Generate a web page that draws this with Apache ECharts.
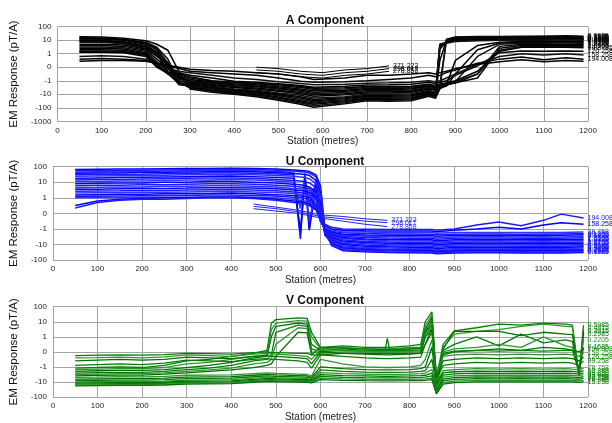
<!DOCTYPE html>
<html>
<head>
<meta charset="utf-8">
<script src="https://cdn.jsdelivr.net/npm/echarts@6/dist/echarts.min.js"></script>
<style>
  html, body { margin: 0; padding: 0; background: #fff; }
  #chart { width: 612px; height: 423px; }
</style>
</head>
<body>
<div id="chart"></div>
<script>
// EM decay profiles, three components, values in pT/A along the line.

// ---- A component ----
const stationsA = [50,100,150,200,225,250,275,300,350,400,450,500,550,580,650,700,750,800,840,855,865,880,900,950,1000,1050,1100,1150,1190];
const componentA = [
  [18,17,14,9,5,1.8,-0.3,-4,-7,-10,-15,-28,-55,-90,-50,-30,-33,-30,-14,-20,-4,12,17,19,19,20,20,21,20],
  [16,15,12,7,3,0.6,-1.2,-3.5,-6,-9,-13,-24,-45,-70,-42,-26,-28,-25,-12,-17,-2,11,16,17,18,18,19,19,18],
  [14,13,11,6,2.5,0.3,-1.5,-3,-5,-8,-11,-20,-38,-55,-35,-22,-24,-21,-10,-14,0.5,10,14,15,16,16,17,17,16],
  [12,12,10,5,2,0,-1.8,-2.5,-4.5,-7,-9,-16,-30,-45,-30,-19,-20,-18,-9,-12,2,9,12,13,14,15,15,15,14],
  [11,10,8,4,1.5,-0.3,-2,-2.2,-4,-6,-8,-13,-24,-36,-25,-16,-17,-15,-8,-10,3,8,11,12,13,13,14,14,13],
  [9,9,7,3.5,1.2,-0.5,-1.5,-2,-3.5,-5,-7,-11,-19,-30,-21,-14,-14,-13,-7,-9,4,7,10,11,12,12,12,13,12],
  [8,8,6,3,1,0.2,-1,-1.8,-3,-4.5,-6,-9,-15,-24,-18,-12,-12,-11,-6,-8,5,7,9,10,11,11,11,12,11],
  [7,7,5.5,2.5,0.9,0.4,-0.8,-1.6,-2.6,-4,-5,-8,-12,-19,-15,-10,-10,-9,-5,-7,5,6,8,9,10,10,10,11,10],
  [5,5,4.5,2.2,0.8,0.2,-0.6,-1.4,-2.2,-3.2,-4,-6,-9,-14,-11,-8,-8,-7,-4,-5,-4,-2,0.5,4,7,8,8,8.5,8],
  [4,4,3.5,1.8,0.6,-0.1,-0.8,-1.2,-1.9,-2.7,-3.4,-5,-7.5,-11,-9,-6.5,-6.5,-6,-3.5,-4.5,-3.5,-2.5,-0.5,2,6,7,7,7.5,7],
  [3.2,3.2,2.8,1.5,0.4,-0.3,-0.9,-1.1,-1.6,-2.3,-2.8,-4,-6,-9,-7.5,-5.5,-5.5,-5,-3,-4,-3,-2.2,-1.2,0.8,5,6,6,6.5,6],
  [2.5,2.5,2.2,1.2,0.2,-0.4,-0.7,-1,-1.4,-2,-2.4,-3.4,-5,-7,-6,-4.5,-4.5,-4,-2.5,-3.5,-2.5,-2,-1.5,-0.5,3.5,5,5,5,5],
  [2,2,1.8,1,0.1,-0.5,-0.6,-0.9,-1.2,-1.7,-2,-2.8,-4,-5.5,-5,-3.8,-3.8,-3.5,-2.2,-3,-2.2,-1.8,-1.4,-0.8,2.5,4,4,4.2,4],
  [1.6,1.6,1.5,0.9,0.05,-0.5,-0.5,-0.8,-1.1,-1.5,-1.7,-2.4,-3.2,-4.5,-4,-3.2,-3.2,-3,-2,-2.6,-2,-1.6,-1.2,-0.5,1.8,3.5,3.5,3.5,3.4],
  [1.3,1.3,1.2,0.8,0,-0.4,-0.5,-0.7,-1,-1.3,-1.5,-2,-2.7,-3.6,-3.3,-2.7,-2.7,-2.5,-1.8,-2.2,-1.8,-1.4,-1,-0.3,1.5,3,3,3,2.8],
  [1.4,1.4,1.3,0.9,0.3,-0.1,-0.4,-0.6,-0.8,-1.1,-1.3,-1.7,-2.2,-3,-2.6,-2.1,-2,-1.8,-1.3,-1.6,-1.3,-1,-0.6,0.1,1.2,1.6,1.5,1.6,1.5],
  [0.8,0.85,0.8,0.6,0.2,-0.1,-0.3,-0.4,-0.6,-0.8,-0.9,-1.2,-1.6,-2,-1.8,-1.5,-1.4,-1.3,-1,-1.2,-1,-0.8,-0.5,0.2,0.8,1,0.9,1,0.9],
  [0.6,0.65,0.6,0.5,0.3,0.1,-0.1,-0.3,-0.4,-0.5,-0.6,-0.8,-1.1,-1.3,-1.2,-1,-0.9,-0.8,-0.6,-0.7,-0.6,-0.4,-0.2,0.3,0.6,0.75,0.55,0.7,0.6],
  [0.45,0.5,0.5,0.45,0.3,0.15,0,-0.15,-0.25,-0.3,-0.4,-0.5,-0.7,-0.9,-0.8,-0.6,-0.6,-0.5,-0.4,-0.5,-0.4,-0.3,-0.1,0.2,0.4,0.55,0.4,0.5,0.45]
];
const endLabelsA = ['0.0985','0.1225','0.1585','0.2115','0.2625','0.3305','0.4095','0.5185','0.6485','0.8155','1.0205','1.2875','1.6165','2.0305','99.8755','126.258','158.258','194.008'];

// late channels read only over part of the line
const stationsLate = [450,500,550,600,650,700,750];
const lateA = [
  [0,-0.1,-0.3,-0.4,-0.2,-0.1,0.1],
  [-0.2,-0.3,-0.5,-0.6,-0.4,-0.3,-0.1],
  [-0.4,-0.5,-0.7,-0.8,-0.6,-0.5,-0.3]
];
const lateU = [
  [0.6,0.4,0.2,-0.1,-0.2,-0.35,-0.45],
  [0.45,0.3,0.1,-0.2,-0.35,-0.5,-0.6],
  [0.3,0.15,0,-0.3,-0.5,-0.7,-0.85]
];
const lateLabels = ['371.222','298.017','278.858'];

// ---- U component ----
const stationsU = [50,100,150,200,250,300,350,400,450,500,540,555,565,575,590,600,610,625,650,700,750,800,850,860,900,950,1000,1050,1100,1140,1190];
const componentU = [
  [66,68,70,72,74,76,78,80,78,72,62,58,55,50,30,6,-1,-12,-25,-30,-33,-34,-35,-40,-35,-34,-34,-35,-34,-35,-33],
  [55,57,58,60,62,64,66,68,66,60,52,48,45,40,22,4,-1.5,-10,-21,-27,-30,-31,-31,-36,-32,-31,-31,-32,-31,-32,-30],
  [45,47,48,50,52,54,56,58,56,50,44,-3,38,-1,17,3,-2,-9,-18,-24,-26,-27,-28,-32,-28,-27,-27,-28,-27,-28,-26],
  [38,39,40,42,44,46,48,50,48,42,37,34,32,28,13,2,-2.5,-8,-16,-21,-23,-24,-25,-28,-25,-24,-24,-25,-24,-25,-23],
  [30,31,32,33,35,37,39,40,38,34,30,-4.5,26,0.5,10,1.5,-2.5,-7,-14,-18,-20,-21,-22,-25,-22,-21,-21,-22,-21,-22,-20],
  [24,25,26,27,28,30,31,32,30,27,24,22,20,17,8,1,-2.2,-6,-12,-16,-17,-18,-19,-22,-19,-18,-18,-19,-18,-19,-17],
  [18,19,20,21,22,23,24,25,23,20,18,-1.5,15,-1.2,6,0.6,-2,-5,-10,-13,-14,-15,-16,-18,-16,-15,-15,-16,-15,-16,-14],
  [14,15,15,16,17,18,19,19,18,15,13,12,11,9,4.5,0.3,-1.8,-4.5,-8.5,-11,-12,-12.5,-13,-15,-13,-12.5,-12.5,-13,-12.5,-13,-12],
  [11,11,12,12,13,14,14,15,14,12,10,0.3,8,-0.5,3.5,0.1,-1.6,-4,-7,-9,-10,-10.5,-11,-12,-11,-10.5,-10.5,-11,-10.5,-11,-10],
  [8,8.5,9,9,10,10,11,11,10,9,7.5,7,6,5,2.5,-0.1,-1.5,-3.5,-6,-7.5,-8.5,-9,-9,-10,-9,-8.5,-8.5,-9,-8.5,-9,-8.5],
  [6,6.3,6.5,7,7,7.5,8,8,7.5,6.5,5.5,5,4.5,3.8,2,-0.2,-1.4,-3,-5,-6.5,-7,-7.5,-7.5,-8.5,-7.5,-7,-7,-7.5,-7,-7.5,-7],
  [4.5,4.7,5,5,5.5,5.5,6,6,5.5,5,4,3.8,3.4,3,1.5,-0.3,-1.3,-2.6,-4.2,-5.2,-5.8,-6,-6,-7,-6,-5.8,-5.8,-6,-5.8,-6,-5.6],
  [3.5,3.6,3.8,4,4,4.2,4.5,4.5,4.2,3.8,3.2,3,2.6,2.3,1.2,-0.4,-1.2,-2.3,-3.6,-4.4,-4.8,-5,-5,-5.8,-5,-4.8,-4.8,-5,-4.8,-5,-4.6],
  [2.6,2.7,2.8,3,3,3.2,3.3,3.4,3.2,2.8,2.4,2.2,2,1.8,0.9,-0.4,-1.1,-2,-3,-3.6,-3.9,-4,-4,-4.6,-4,-3.9,-3.9,-4,-3.9,-4,-3.7],
  [2,2.1,2.2,2.3,2.3,2.4,2.5,2.6,2.4,2.2,1.9,1.7,1.6,1.4,0.7,-0.5,-1.05,-1.8,-2.6,-3,-3.2,-3.2,-3.3,-3.8,-3.3,-3.2,-3.2,-3.3,-3.2,-3.3,-3],
  [1.5,1.6,1.7,1.7,1.8,1.8,1.9,2,1.8,1.6,1.4,1.3,1.2,1.1,0.5,-0.5,-1,-1.6,-2.2,-2.5,-2.6,-2.6,-2.7,-3,-2.7,-2.6,-2.6,-2.7,-2.6,-2.6,-2.4],
  [1.2,1.25,1.3,1.35,1.4,1.4,1.5,1.5,1.4,1.3,1.1,1,0.95,0.85,0.4,-0.5,-0.95,-1.4,-1.8,-2,-2.1,-2.1,-2.2,-2.4,-2.2,-2.1,-2.1,-2.2,-2.1,-2.1,-2],
  [1,1.02,1.05,1.1,1.1,1.1,1.15,1.2,1.1,1,0.9,0.85,0.8,0.7,0.3,-0.4,-0.9,-1.2,-1.5,-1.6,-1.7,-1.7,-1.7,-1.9,-1.7,-1.7,-1.7,-1.7,-1.7,-1.7,-1.6],
  [0.5,0.8,0.9,0.95,1,1,1.05,1.05,1,0.9,0.8,0.75,0.7,0.6,0.25,-0.35,-0.8,-1,-1.2,-1.3,-1.35,-1.35,-1.35,-1.5,-1.2,-1,-0.9,-1,-0.75,-0.6,-0.7],
  [0.35,0.7,0.85,0.9,0.9,0.95,1,1,0.95,0.85,0.7,0.65,0.6,0.5,0.2,-0.3,-0.7,-0.9,-1,-1.05,-1.1,-1.1,-1.1,-1.2,-1,-0.75,-0.55,-0.8,-0.45,-0.05,-0.3]
];
const endLabelsU = ['0.0985','0.1225','0.1585','0.2115','0.2625','0.3305','0.4095','0.5185','0.6485','0.8155','1.0205','1.2875','1.6165','2.0305','2.5475','3.1965','40.258','78.758','158.258','194.008'];

// ---- V component ----
const stationsV = [50,100,150,200,250,300,350,400,450,480,490,500,550,570,580,600,650,700,745,750,755,800,825,835,850,860,875,900,950,1000,1050,1100,1150,1165,1180,1190];
const componentV = [
  [-1.2,-1.1,-1.0,-1.1,-0.9,-0.6,-0.5,-0.3,-0.1,0.1,8,14,18,17,2,0.3,0.4,0.3,0.3,0.3,0.3,0.4,0.5,10,45,-6,0.5,2.5,4,7,6,8,7,6,-4,6],
  [-1.5,-1.4,-1.3,-1.3,-1.1,-0.8,-0.7,-0.5,-0.3,-0.2,3,8,12,11,1,0.2,0.3,0.2,0.2,0.2,0.2,0.3,0.3,5,30,-8,0.3,1.5,2.3,3,5,7,5,4.5,-4,4],
  [-2,-1.8,-1.7,-1.7,-1.5,-1.1,-0.9,-0.7,-0.4,-0.3,1,5,8,7,0.5,0.1,0.2,0.1,0.15,0.15,0.15,0.2,0.2,3,20,-10,0.2,2.3,2.3,2.3,1.2,2,1.5,1.4,-3.5,2.5],
  [-2.6,-2.4,-2.3,-2.3,-2,-1.5,-1.2,-0.9,-0.6,-0.5,-0.2,2,6,5,0.2,0,0.1,0.05,0.1,0.1,0.1,0.1,0.1,2,12,-12,0.1,0.5,1,0.4,1.5,0.6,0.8,0.7,-3,1.5],
  [-3.2,-3,-2.8,-2.8,-2.5,-2,-1.6,-1.2,-0.8,-0.7,-0.5,0.5,4,3.5,0,-0.1,0,0,0,0,0,0,0,1,8,-15,0,0.2,0.3,0.5,0.3,1,0.4,0.3,-2.5,0.8],
  [-4,-3.7,-3.5,-3.5,-3,-2.5,-2,-1.6,-1.1,-0.9,-0.8,-0.3,2,1.8,-0.2,-0.2,-0.1,-0.1,-0.1,-0.1,-0.1,-0.1,-0.1,0.5,4,-18,-0.2,0,0.1,0.2,0.1,0.3,0.2,0.1,-2,0.3],
  [-0.25,-0.22,-0.2,-0.22,-0.18,-0.1,-0.12,-0.15,-0.05,0,-0.05,-0.05,-0.1,-0.1,-0.2,0.3,0.25,0.2,0.15,0.9,0.15,0.2,0.25,2,6,-3,-0.1,0.05,0.1,0.05,0.1,0.05,0.1,0.1,0,0.2],
  [-0.4,-0.38,-0.35,-0.4,-0.33,-0.2,-0.25,-0.3,-0.15,-0.1,-0.15,-0.15,-0.25,-0.3,-0.5,0.15,0.1,0.05,0,0,0,0.05,0.1,1.5,4,-4,-0.3,-0.2,-0.15,-0.2,-0.15,-0.2,-0.15,-0.2,-0.3,-0.1],
  [-0.6,-0.55,-0.5,-0.55,-0.5,-0.35,-0.4,-0.45,-0.3,-0.25,-0.3,-0.3,-0.4,-0.45,-0.8,0,-0.1,-0.15,-0.2,-0.2,-0.2,-0.15,-0.1,1,3,-5,-0.6,-0.5,-0.4,-0.45,-0.4,-0.45,-0.4,-0.45,-0.6,-0.35],
  [-0.9,-0.85,-0.8,-0.85,-0.75,-0.55,-0.6,-0.65,-0.5,-0.45,-0.5,-0.5,-0.6,-0.7,-1.2,-0.2,-0.3,-0.4,-0.45,-0.45,-0.45,-0.4,-0.35,0.5,2,-7,-0.9,-0.8,-0.7,-0.75,-0.7,-0.75,-0.7,-0.75,-0.9,-0.6],
  [-5,-4.8,-4.5,-4.6,-4.2,-3.6,-3.5,-3.4,-2.8,-2.5,-2.6,-2.7,-3,-3.2,-4,-0.5,-0.8,-1,-1.1,-1.1,-1.1,-1,-0.9,-0.5,0.8,-10,-1.8,-1.5,-1.3,-1.4,-1.3,-1.4,-1.3,-1.4,-1.5,-1.2],
  [-6.5,-6.2,-6,-6,-5.5,-4.8,-4.6,-4.4,-3.6,-3.2,-3.3,-3.4,-3.8,-4,-5,-1,-1.3,-1.5,-1.6,-1.6,-1.6,-1.5,-1.3,-1,0.3,-14,-2.5,-2.1,-1.9,-2,-1.9,-2,-1.9,-2,-2.2,-1.8],
  [-8,-7.7,-7.5,-7.5,-7,-6,-5.8,-5.6,-4.5,-4,-4.1,-4.2,-4.6,-5,-6,-1.6,-2,-2.2,-2.3,-2.3,-2.3,-2.2,-2,-1.8,-0.5,-20,-3.5,-2.9,-2.6,-2.7,-2.6,-2.7,-2.6,-2.7,-3,-2.5],
  [-10,-9.6,-9.3,-9.3,-8.7,-7.5,-7.2,-7,-5.6,-5,-5.1,-5.2,-5.7,-6,-7,-2.4,-2.8,-3,-3.2,-3.2,-3.2,-3,-2.8,-2.6,-1.5,-28,-4.8,-3.9,-3.5,-3.6,-3.5,-3.6,-3.5,-3.6,-4,-3.3],
  [-12,-11.5,-11,-11,-10.5,-9,-8.7,-8.4,-6.8,-6,-6.1,-6.2,-6.8,-7,-8,-3.3,-3.8,-4,-4.2,-4.2,-4.2,-4,-3.8,-3.6,-2.6,-36,-6.5,-5.2,-4.6,-4.8,-4.6,-4.8,-4.6,-4.8,-5.2,-4.4],
  [-14,-13.5,-13,-13,-12.3,-10.5,-10.2,-9.8,-8,-7,-7.1,-7.2,-7.9,-8.2,-9,-4.3,-4.9,-5.2,-5.4,-5.4,-5.4,-5.2,-5,-4.8,-4,-45,-8.5,-6.8,-6,-6.2,-6,-6.2,-6,-6.2,-6.6,-5.8],
  [-16,-15.4,-15,-15,-14,-12,-11.7,-11.2,-9.2,-8,-8.1,-8.2,-9,-9.4,-10,-5.5,-6.2,-6.6,-6.8,-6.8,-6.8,-6.6,-6.4,-6.2,-5.5,-55,-11,-8.8,-7.8,-8,-7.8,-8,-7.8,-8,-8.4,-7.5],
  [-18,-17.4,-17,-17,-16,-14,-13.5,-13,-10.5,-9.2,-9.3,-9.4,-10.3,-10.8,-11.5,-7,-7.8,-8.2,-8.4,-8.4,-8.4,-8.2,-8,-7.8,-7,-63,-14,-11,-9.8,-10,-9.8,-10,-9.8,-10,-10.5,-9.5]
];
const endLabelsV = ['0.5985','0.4915','0.3915','0.2985','0.2205','0.1585','194.008','158.258','126.258','99.258','78.758','62.258','49.258','39.008','30.758','24.258','19.258','15.258'];

// symmetric log scale: linear inside |v| < 1, one unit per decade outside
function symlog(v) {
  const a = Math.abs(v);
  return a < 1 ? v : Math.sign(v) * (1 + Math.log10(a));
}
function symlogLabel(t) {
  const a = Math.abs(Math.round(t));
  if (a === 0) return '0';
  return (t < 0 ? '-' : '') + String(Math.round(Math.pow(10, a - 1)));
}

const FONT = 'Liberation Sans, Arial, sans-serif';
const plotLeft = 52, plotRight = 24;
const panels = [
  { title: 'A Component', top: 26.7, height: 94.6, min: -4, titleTop: 10 },
  { title: 'U Component', top: 166.7, height: 93.3, min: -3, titleTop: 150.5 },
  { title: 'V Component', top: 306.7, height: 93.3, min: -3, titleTop: 290 }
];

const grids = [], xAxes = [], yAxes = [], titles = [], series = [];
panels.forEach((p, i) => {
  grids.push({ left: plotLeft, right: plotRight, top: p.top, height: p.height });
  titles.push({
    text: p.title, left: plotLeft + (612 - plotLeft - plotRight) / 2, top: p.titleTop,
    textAlign: 'center',
    textStyle: { fontFamily: FONT, fontSize: 12, fontWeight: 'bold', color: '#111' }
  });
  xAxes.push({
    type: 'value', gridIndex: i, min: 0, max: 1200, interval: 100,
    name: 'Station (metres)', nameLocation: 'middle', nameGap: 15,
    nameTextStyle: { fontFamily: FONT, fontSize: 10, color: '#222' },
    axisLine: { show: false }, axisTick: { show: false },
    axisLabel: { fontFamily: FONT, fontSize: 8, color: '#223', margin: 5, formatter: v => String(v) },
    splitLine: { show: true, lineStyle: { color: '#a3a3a3', width: 1 } }
  });
  yAxes.push({
    type: 'value', gridIndex: i, min: p.min, max: 3, interval: 1,
    name: 'EM Response (pT/A)', nameLocation: 'middle', nameGap: 25,
    nameTextStyle: { fontFamily: FONT, fontSize: 11.5, color: '#111' },
    axisLine: { show: false }, axisTick: { show: false },
    axisLabel: { fontFamily: FONT, fontSize: 8, color: '#223', margin: 6, formatter: symlogLabel },
    splitLine: { show: true, lineStyle: { color: '#a3a3a3', width: 1 } }
  });
});

function addLines(stations, rows, labels, axis, colors, width) {
  rows.forEach((vals, k) => {
    const color = colors[k % colors.length];
    series.push({
      type: 'line', xAxisIndex: axis, yAxisIndex: axis,
      data: stations.map((s, j) => [s, symlog(vals[j])]),
      showSymbol: false, silent: true, animation: false,
      lineStyle: { color: color, width: width },
      endLabel: labels && labels[k] ? {
        show: true, formatter: labels[k], distance: 4,
        fontFamily: FONT, fontSize: 7, color: color
      } : { show: false }
    });
  });
}

addLines(stationsA, componentA, endLabelsA, 0, ['#000000', '#111111', '#000000'], 1.5);
addLines(stationsLate, lateA, lateLabels, 0, ['#000000'], 1);
addLines(stationsU, componentU, endLabelsU, 1, ['#0000ff', '#1a1aff', '#3333ff'], 1.5);
addLines(stationsLate, lateU, lateLabels, 1, ['#1f1fff'], 1);
addLines(stationsV, componentV, endLabelsV, 2, ['#008000', '#2f962f', '#007000'], 1.3);

const chart = echarts.init(document.getElementById('chart'), null, { renderer: 'canvas' });
chart.setOption({
  backgroundColor: '#ffffff',
  animation: false,
  title: titles,
  grid: grids,
  xAxis: xAxes,
  yAxis: yAxes,
  series: series
});
</script>
</body>
</html>
